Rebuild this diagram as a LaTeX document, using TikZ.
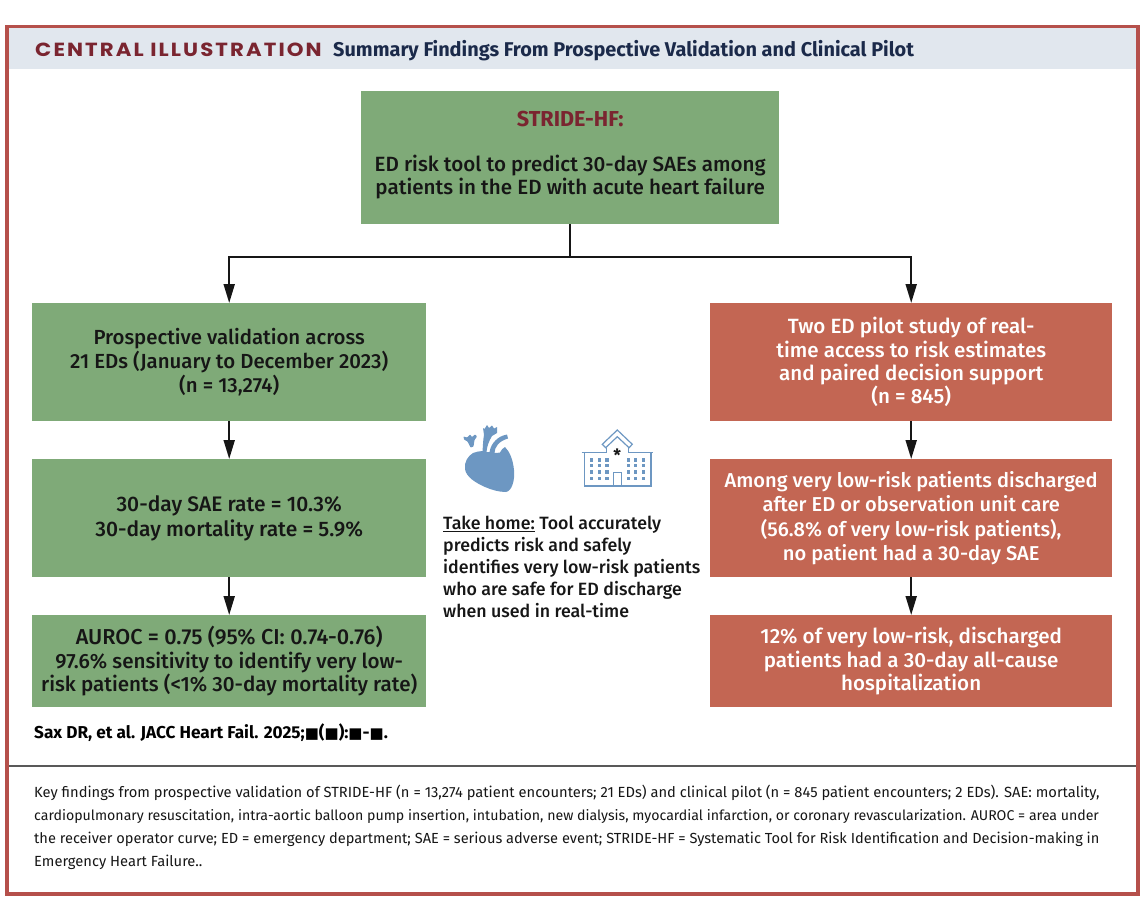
\documentclass[tikz,border=0pt]{standalone}
\usepackage{fontspec}
\setmainfont{Fira Sans}[UprightFont=* Medium,BoldFont=* Bold]
\newfontfamily\capfont{Fira Sans}[UprightFont=*]
\newfontfamily\headfont{Poppins}[UprightFont=* Bold,LetterSpace=11,FakeStretch=1.12]
\newfontfamily\symfont{DejaVu Sans}
\usetikzlibrary{arrows.meta}
\definecolor{framered}{HTML}{B5504B}
\definecolor{headbg}{HTML}{E1E7EE}
\definecolor{maroon}{HTML}{7A2530}
\definecolor{navy}{HTML}{1B2A4A}
\definecolor{boxgreen}{HTML}{7FAA78}
\definecolor{boxred}{HTML}{C36653}
\definecolor{iconblue}{HTML}{6D97C2}
\definecolor{ink}{HTML}{161616}
\tikzset{
  x=1pt,y=-1pt,
  fbox/.style={inner sep=0pt,align=center,anchor=north west,text=ink,font=\fontsize{20.6}{23.4}\selectfont},
  greenbox/.style={fbox,fill=boxgreen},
  redbox/.style={fbox,fill=boxred,text=white},
  flow/.style={draw=ink,line width=2pt,-{Triangle[length=19pt,width=11pt]}},
  iconline/.style={draw=iconblue,line width=1.2pt},
  win/.style={fill=iconblue},
}
\begin{document}
\begin{tikzpicture}
\useasboundingbox (0,0) rectangle (1146,910);
% frame and header
\fill[headbg] (9,28) rectangle (1136,69);
\draw[framered,line width=3.6pt] (7,26.5) rectangle (1138,894);
\draw[draw=black!65,line width=1.7pt] (9,766) -- (1136,766);
\node[anchor=base west,inner sep=0pt,text=maroon,font=\headfont\fontsize{19}{20}\selectfont] (title) at (35,56) {CENTRAL ILLUSTRATION};
\node[anchor=base west,inner sep=0pt,text=navy,font=\bfseries\fontsize{19.9}{22}\selectfont] (sub) at (333,56) {Summary Findings From Prospective Validation and Clinical Pilot};
% boxes
\node[greenbox,minimum width=418pt,minimum height=133pt] (top) at (361,91) {{\bfseries\color{maroon}\fontsize{21.6}{23.4}\selectfont STRIDE-HF:}\\[21pt]ED risk tool to predict 30-day SAEs among\\patients in the ED with acute heart failure\rule[-9pt]{0pt}{1pt}};
\node[greenbox,minimum width=394pt,minimum height=118pt,font=\fontsize{20.4}{23.6}\selectfont] (l1) at (32,303) {Prospective validation across\\21 EDs (January to December 2023)\\(n = 13,274)};
\node[greenbox,minimum width=394pt,minimum height=118pt,font=\fontsize{21}{25.5}\selectfont] (l2) at (32,459) {30-day SAE rate = 10.3\%\\30-day mortality rate = 5.9\%};
\node[greenbox,minimum width=394pt,minimum height=92pt] (l3) at (32,615) {{\fontsize{21.6}{23.4}\selectfont AUROC = 0.75 (95\% CI: 0.74-0.76)}\\97.6\% sensitivity to identify very low-\\risk patients (<1\% 30-day mortality rate)};
\node[redbox,minimum width=402pt,minimum height=118pt] (r1) at (710,303) {Two ED pilot study of real-\\time access to risk estimates\\and paired decision support\\(n = 845)};
\node[redbox,minimum width=402pt,minimum height=118pt,font=\fontsize{20.1}{24.2}\selectfont] (r2) at (710,459) {Among very low-risk patients discharged\\after ED or observation unit care\\(56.8\% of very low-risk patients),\\no patient had a 30-day SAE};
\node[redbox,minimum width=402pt,minimum height=92pt] (r3) at (710,615) {12\% of very low-risk, discharged\\patients had a 30-day all-cause\\hospitalization};
% connectors
\coordinate (split) at (570,257);
\draw[draw=ink,line width=2pt] (top.south -| split) -- (split);
\draw[flow] (split) -| (l1.north);
\draw[flow] (split) -| (r1.north);
\draw[flow] (l1) -- (l2);
\draw[flow] (l2) -- (l3);
\draw[flow] (r1) -- (r2);
\draw[flow] (r2) -- (r3);
% take home
\node[anchor=north west,inner sep=0pt,align=left,text=ink,font=\fontsize{17.8}{22}\selectfont] (take) at (443,516) {\underline{Take home:} Tool accurately\\predicts risk and safely\\identifies very low-risk patients\\who are safe for ED discharge\\when used in real-time};
% heart
\fill[iconblue] (473,453) .. controls (468,456) and (464,462) .. (465,469)
  .. controls (466,477) and (476,483) .. (485,487)
  .. controls (492,490) and (499,492) .. (506,492)
  .. controls (512,491) and (515,480) .. (514,470)
  .. controls (513,460) and (510,452) .. (505,447)
  .. controls (503,448) and (501,450) .. (500,452.5)
  .. controls (498,453) and (496,453) .. (494.5,453)
  .. controls (494.5,447) and (499,441) .. (508,438.5) -- (507,434.5)
  .. controls (498,436) and (491,443) .. (489.5,452)
  -- (486.5,452)
  .. controls (487,446) and (489,441) .. (492,436)
  -- (497,433) -- (497,427) -- (494,428.5) -- (492,425.5) -- (489,428) -- (487,425) -- (484.5,429) -- (483,428) -- (484,435)
  .. controls (483,440) and (483,446) .. (482.5,451)
  .. controls (479,451) and (476,452) .. cycle;
\fill[iconblue,rounded corners=0.6pt] (470.5,447.5) -- (467.5,441.5) -- (464,439.5) -- (463.5,436.5) -- (467,437.5) -- (470,434.5) -- (472,437) -- (475,434.5) -- (477,436.5) -- (474.5,440) -- (473.5,446.5) -- cycle;
% hospital
\draw[iconline] (581.7,452.7) -- (606.7,452.7) -- (606.7,447.7) (628.3,447.7) -- (628.3,452.7) -- (653.3,452.7);
\draw[iconline] (584.3,452.7) -- (584.3,486) -- (651,486) -- (651,452.7);
\draw[iconline,line join=miter] (605.7,447.7) -- (602.3,444.3) -- (617.3,430) -- (632.3,444.3) -- (629,447.7) -- (617.3,436.7) -- cycle;
\draw[iconline] (613.3,486) -- (613.3,472.7) -- (621.7,472.7) -- (621.7,486);
\foreach \wx in {591.7,599.3,607,628.3,635.7,643.3}
  \foreach \wy in {460,465.7,472,478.3}
    \fill[win] (\wx-1.7,\wy-1.7) rectangle +(3.4,3.4);
\node[inner sep=0pt,text=ink,font=\bfseries\fontsize{17}{17}\selectfont] (star) at (617.3,455) {*};
% citation
\node[anchor=base west,inner sep=0pt,text=black,font=\bfseries\fontsize{17.2}{18}\selectfont] (cite) at (34,738) {Sax DR, et al. JACC Heart Fail. 2025;{\symfont\fontsize{15}{18}\selectfont ■}({\symfont\fontsize{15}{18}\selectfont ■}):{\symfont\fontsize{15}{18}\selectfont ■}-{\symfont\fontsize{15}{18}\selectfont ■}.};
% caption
\node[anchor=north west,inner sep=0pt,align=left,text=ink,font=\capfont\fontsize{14.7}{22.8}\selectfont] (cap) at (34,785) {Key findings from prospective validation of STRIDE-HF (n = 13,274 patient encounters; 21 EDs) and clinical pilot (n = 845 patient encounters; 2 EDs). SAE: mortality,\\{\fontsize{14.15}{22.8}\selectfont cardiopulmonary resuscitation, intra-aortic balloon pump insertion, intubation, new dialysis, myocardial infarction, or coronary revascularization. AUROC = area under}\\{\fontsize{14.6}{22.8}\selectfont the receiver operator curve; ED = emergency department; SAE = serious adverse event; STRIDE-HF = Systematic Tool for Risk Identification and Decision-making in}\\Emergency Heart Failure..};
\end{tikzpicture}
\end{document}
